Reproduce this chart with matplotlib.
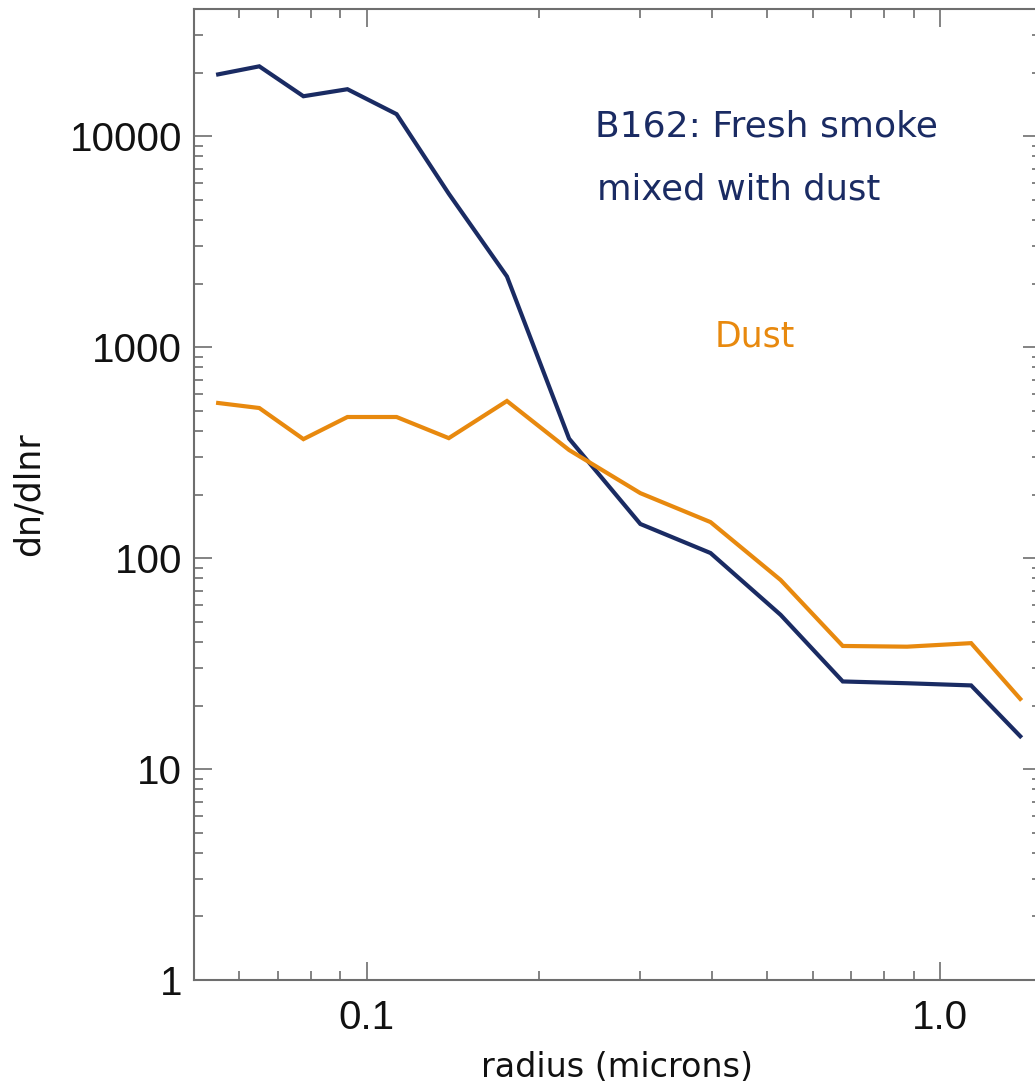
import matplotlib.pyplot as plt
from matplotlib.ticker import LogLocator, FixedLocator, NullFormatter

# particle radius (microns) and size distributions dn/dlnr
radius = [0.0551, 0.0650, 0.0776, 0.0926, 0.1128, 0.1391, 0.1757, 0.2255,
          0.3002, 0.3979, 0.5272, 0.6767, 0.876, 1.133, 1.380]
smoke_dust = [19600, 21400, 15440, 16670, 12700, 5330, 2160, 368,
              145, 105.6, 53.8, 26.0, 25.5, 24.9, 14.3]
dust = [543, 514, 366, 466, 466, 370, 555, 325,
        203, 148, 78.7, 38.3, 38.0, 39.5, 21.5]

x_ticks = [0.1, 1.0]
x_ticklabels = ['0.1', '1.0']
y_ticks = [1, 10, 100, 1000, 10000]
y_ticklabels = ['1', '10', '100', '1000', '10000']

navy = '#1a2b63'
orange = '#e8890e'
axis_gray = '#6e6e6e'

plt.rcParams['font.family'] = ['DejaVu Sans']

fig = plt.figure(figsize=(10.35, 10.86), dpi=100)
ax = fig.add_axes([0.1874, 0.0976, 0.8184, 0.8941])

ax.plot(radius, smoke_dust, color=navy, lw=3.0, solid_joinstyle='miter')
ax.plot(radius, dust, color=orange, lw=3.0, solid_joinstyle='miter')

ax.set_xscale('log')
ax.set_yscale('log')
ax.set_xlim(0.05, 1.5)
ax.set_ylim(1, 4e4)

ax.xaxis.set_major_locator(FixedLocator(x_ticks))
ax.set_xticklabels(x_ticklabels)
ax.xaxis.set_minor_locator(LogLocator(base=10, subs=range(2, 10)))
ax.xaxis.set_minor_formatter(NullFormatter())
ax.yaxis.set_major_locator(FixedLocator(y_ticks))
ax.set_yticklabels(y_ticklabels)
ax.yaxis.set_minor_locator(LogLocator(base=10, subs=range(2, 10)))
ax.yaxis.set_minor_formatter(NullFormatter())

for s in ax.spines.values():
    s.set_color(axis_gray)
    s.set_linewidth(1.5)

ax.tick_params(which='both', direction='in', top=True, right=True,
               color=axis_gray, width=1.2)
ax.tick_params(which='major', length=13)
ax.tick_params(which='minor', length=6.5)
ax.tick_params(axis='y', which='major', pad=8.5)
ax.tick_params(axis='x', which='major', pad=14)
for lab in ax.get_xticklabels() + ax.get_yticklabels():
    lab.set_fontfamily('Liberation Sans')
    lab.set_fontsize(29)
    lab.set_color('#111111')

ax.set_xlabel('radius (microns)', fontsize=24, color='#111111', labelpad=10)
ax.set_ylabel('dn/dlnr', fontsize=25, color='#111111', labelpad=17)

ax.text(0.4734, 0.869, 'B162: Fresh smoke', transform=ax.transAxes,
        fontsize=26, color=navy, ha='left', va='baseline')
ax.text(0.4758, 0.804, 'mixed with dust', transform=ax.transAxes,
        fontsize=25.5, color=navy, ha='left', va='baseline')
ax.text(0.615, 0.652, 'Dust', transform=ax.transAxes,
        fontsize=25, color=orange, ha='left', va='baseline')

fig.savefig('out.png', dpi=100)
